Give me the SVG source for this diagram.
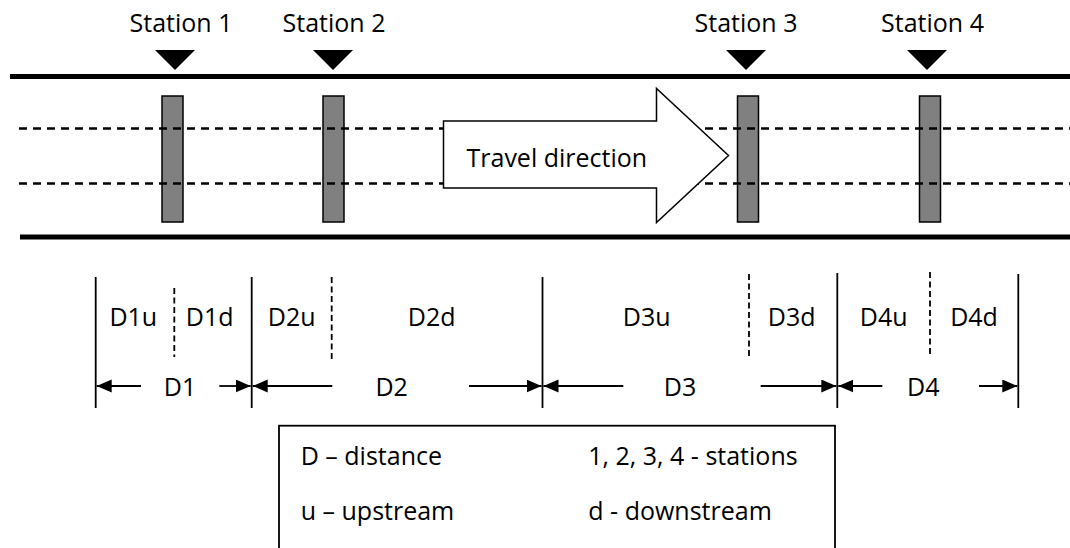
<svg xmlns="http://www.w3.org/2000/svg" width="1070" height="548" viewBox="0 0 1070 548">
<style>
text{font-family:"Open Sans","Liberation Sans",sans-serif;font-size:25px;fill:#000}
.mid{text-anchor:middle}
.road{stroke:#000;stroke-width:5;fill:none}
.lane{stroke:#000;stroke-width:2.5;stroke-dasharray:8 6;fill:none}
.gauge{fill:#808080;stroke:#000;stroke-width:1.5}
.tri{fill:#000}
.sol{stroke:#000;stroke-width:1.8;fill:none}
.dsh{stroke:#000;stroke-width:1.8;stroke-dasharray:6 3.5;fill:none}
.dim{stroke:#000;stroke-width:1.8;fill:none;marker-end:url(#ah)}
</style>
<defs>
<marker id="ah" markerUnits="userSpaceOnUse" markerWidth="16" markerHeight="14" refX="15" refY="6.5" orient="auto">
<path d="M0,0 L15,6.5 L0,13 Z" fill="#000"/>
</marker>
</defs>
<rect width="1070" height="548" fill="#fff"/>
<g id="road">
<line class="road" x1="10" y1="76.5" x2="1070" y2="76.5"/>
<line class="road" x1="20" y1="237" x2="1070" y2="237"/>
</g>
<g id="gauges">
<rect class="gauge" x="162" y="96" width="21" height="126"/>
<rect class="gauge" x="323" y="96" width="21" height="126"/>
<rect class="gauge" x="737.5" y="96" width="21" height="126"/>
<rect class="gauge" x="919.5" y="96" width="21" height="126"/>
</g>
<g id="lanes">
<line class="lane" x1="19" y1="128.5" x2="1070" y2="128.5"/>
<line class="lane" x1="19" y1="183.5" x2="1070" y2="183.5"/>
</g>
<g id="station1">
<text class="mid" x="181" y="32">Station 1</text>
<polygon class="tri" points="155,50 195,50 175,70"/>
</g>
<g id="station2">
<text class="mid" x="334" y="32">Station 2</text>
<polygon class="tri" points="313,50 353,50 333,70"/>
</g>
<g id="station3">
<text class="mid" x="746" y="32">Station 3</text>
<polygon class="tri" points="726,50 766,50 746,70"/>
</g>
<g id="station4">
<text class="mid" x="932.5" y="32">Station 4</text>
<polygon class="tri" points="907,50 947,50 927,70"/>
</g>
<g id="travel-direction">
<polygon points="443.5,121 656.5,121 656.5,88.5 728.5,155.5 656.5,222.5 656.5,188 443.5,188" fill="#fff" stroke="#000" stroke-width="1.5"/>
<text x="466.5" y="167">Travel direction</text>
</g>
<g id="connectors">
<line class="sol" x1="95.7" y1="277" x2="95.7" y2="408"/>
<line class="sol" x1="251.7" y1="277" x2="251.7" y2="408"/>
<line class="sol" x1="542.5" y1="277" x2="542.5" y2="408"/>
<line class="sol" x1="837.3" y1="273" x2="837.3" y2="408"/>
<line class="sol" x1="1018.3" y1="274" x2="1018.3" y2="408"/>
<line class="dsh" x1="174.3" y1="288" x2="174.3" y2="357"/>
<line class="dsh" x1="331.7" y1="277" x2="331.7" y2="362"/>
<line class="dsh" x1="749" y1="274" x2="749" y2="359"/>
<line class="dsh" x1="930" y1="272" x2="930" y2="357"/>
<line class="dim" x1="141" y1="386" x2="96.7" y2="386"/>
<line class="dim" x1="219.3" y1="386" x2="250.7" y2="386"/>
<line class="dim" x1="332.3" y1="386" x2="252.7" y2="386"/>
<line class="dim" x1="469" y1="386" x2="541.5" y2="386"/>
<line class="dim" x1="623.3" y1="386" x2="543.5" y2="386"/>
<line class="dim" x1="760.7" y1="386" x2="836.3" y2="386"/>
<line class="dim" x1="882.3" y1="386" x2="838.3" y2="386"/>
<line class="dim" x1="979" y1="386" x2="1017.3" y2="386"/>
</g>
<g id="segment-labels">
<text class="mid" x="133.3" y="326">D1u</text>
<text class="mid" x="209.7" y="326">D1d</text>
<text class="mid" x="291.7" y="326">D2u</text>
<text class="mid" x="431.7" y="326">D2d</text>
<text class="mid" x="646.7" y="326">D3u</text>
<text class="mid" x="791.7" y="326">D3d</text>
<text class="mid" x="883.7" y="326">D4u</text>
<text class="mid" x="974" y="326">D4d</text>
<text class="mid" x="180" y="396">D1</text>
<text class="mid" x="391.7" y="396">D2</text>
<text class="mid" x="680" y="396">D3</text>
<text class="mid" x="923.3" y="396">D4</text>
</g>
<g id="legend">
<rect x="279" y="425.7" width="556" height="140" fill="none" stroke="#000" stroke-width="1.8"/>
<text x="300.7" y="465">D – distance</text>
<text x="588.3" y="465">1, 2, 3, 4 - stations</text>
<text x="300.7" y="520">u – upstream</text>
<text x="588.3" y="520">d - downstream</text>
</g>
</svg>
